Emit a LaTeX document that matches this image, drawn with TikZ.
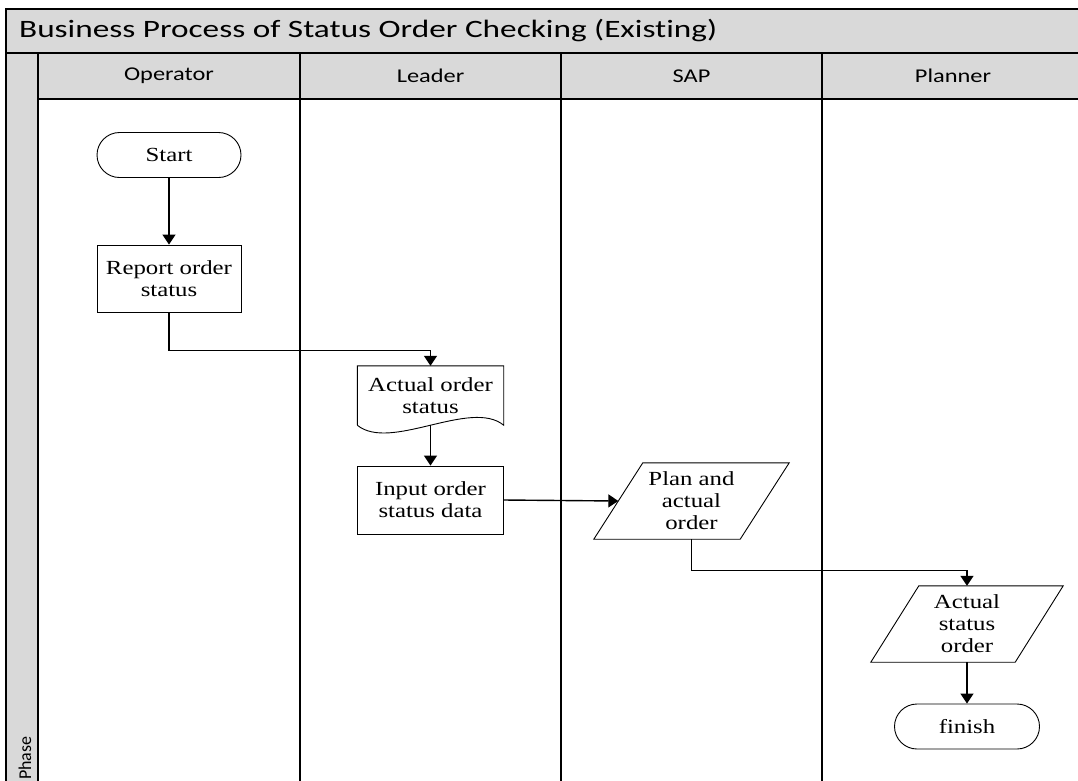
\documentclass[tikz,border=0pt]{standalone}
\usepackage{fontspec}
\usetikzlibrary{arrows.meta}
\newfontfamily\nodefont[FakeStretch=1.24]{Liberation Serif}
\newfontfamily\lanefont[FakeStretch=1.25,Ligatures=NoCommon]{Carlito}
\newfontfamily\titlefont[FakeStretch=1.33,Ligatures=NoCommon]{Carlito}
\newfontfamily\phasefont{Carlito}
\definecolor{lanegray}{HTML}{D9D9D9}
\begin{document}
\begin{tikzpicture}[x=1pt,y=-1pt,
  frame/.style={line width=1.5pt, draw=black},
  shapeline/.style={line width=0.9pt, draw=black},
  shapebase/.style={font=\nodefont\fontsize{20}{22}\selectfont, align=center, inner sep=0pt},
  proc/.style={shapebase, shapeline, minimum width=144pt, minimum height=67pt},
  term/.style={shapebase, shapeline, rounded corners=22.5pt, minimum width=144pt, minimum height=45pt},
  io/.style={shapebase, minimum width=146pt, minimum height=76pt},
  lanelabel/.style={font=\lanefont\fontsize{19.5}{22}\selectfont, inner sep=0pt},
  flow/.style={line width=1.4pt, -{Triangle[length=10pt,width=13pt]}}
]
\clip (0,0) rectangle (1078,780);
% pool
\fill[lanegray] (6,9) rectangle (1090,99);
\fill[lanegray] (6,99) rectangle (38,790);
\draw[frame] (1090,9) -- (6,9) -- (6,790);
\draw[frame] (6,53) -- (1090,53);
\draw[frame] (38,99) -- (1090,99);
\draw[frame] (38,53) -- (38,790);
\foreach \lx in {300,561,822} \draw[frame] (\lx,53) -- (\lx,790);
\node[inner sep=0pt, font=\titlefont\fontsize{25}{30}\selectfont, anchor=west] (title) at (19,31) {Business Process of Status Order Checking (Existing)};
\node[lanelabel] (op) at (169,76) {Operator};
\node[lanelabel] (ld) at (430.5,76) {Leader};
\node[lanelabel] (sap) at (691.5,76) {SAP};
\node[lanelabel] (pl) at (953,76) {Planner};
\node[inner sep=0pt, font=\phasefont\fontsize{18}{22}\selectfont, rotate=90, anchor=west] (phase) at (25,780) {Phase};
% nodes
\node[term] (start) at (169,155) {Start};
\node[proc] (report) at (169,278.5) {Report order\\status};
\node[shapebase, minimum width=146pt, minimum height=59pt] (aos) at (430.5,395.5) {Actual order\\status};
\draw[shapeline] (aos.south west) -- (aos.north west) -- (aos.north east) -- (aos.south east)
  .. controls ([shift={(-33,-27)}]aos.south east) and ([shift={(33,27)}]aos.south west) .. (aos.south west);
\node[proc, minimum width=146pt, minimum height=68pt] (input) at (430.5,500) {Input order\\status data};
\node[io] (pao) at (691.5,501) {Plan and\\actual\\order};
\draw[shapeline] ([xshift=24.5pt]pao.north west) -- ([xshift=24.5pt]pao.north east) -- ([xshift=-24.5pt]pao.south east) -- ([xshift=-24.5pt]pao.south west) -- cycle;
\node[io, minimum width=144pt] (aso) at (967,624) {Actual\\status\\order};
\draw[shapeline] ([xshift=24pt]aso.north west) -- ([xshift=24pt]aso.north east) -- ([xshift=-24pt]aso.south east) -- ([xshift=-24pt]aso.south west) -- cycle;
\node[term, minimum width=145pt] (finish) at (967,726.5) {finish};
% connectors
\draw[flow] (start) -- (report);
\draw[flow] (report.south) -- ++(0,38) -| (aos.north);
\draw[flow] (aos.south) -- (input.north);
\draw[flow] (input.east) -- (pao.west);
\draw[flow] (pao.south) -- ++(0,31) -| (aso.north);
\draw[flow] (aso.south) -- (finish.north);
\end{tikzpicture}
\end{document}
